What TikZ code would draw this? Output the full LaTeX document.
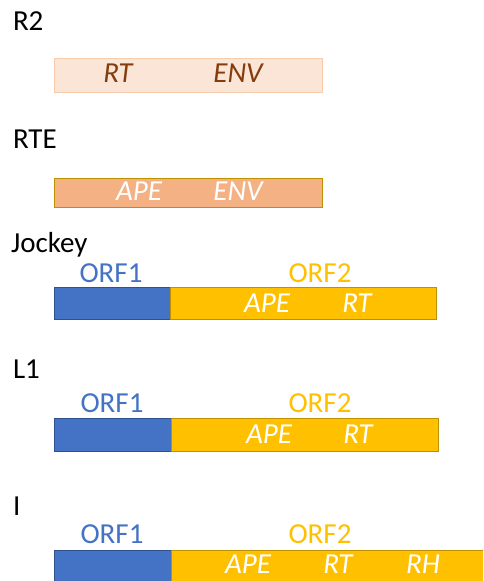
\documentclass[tikz,border=0pt]{standalone}
\usepackage{fontspec}
\setmainfont{Carlito}
\definecolor{peachL}{HTML}{FBE5D6}
\definecolor{peachB}{HTML}{F8CBAD}
\definecolor{peachD}{HTML}{F4B183}
\definecolor{brownT}{HTML}{843C0C}
\definecolor{goldB}{HTML}{BF9000}
\definecolor{blueF}{HTML}{4472C4}
\definecolor{blueB}{HTML}{2F528F}
\definecolor{yellowF}{HTML}{FFC000}
\begin{document}
\begin{tikzpicture}[x=1pt,y=-1pt,
  every node/.style={inner sep=0pt, outer sep=0pt, font=\fontsize{29}{34}\selectfont},
  title/.style={anchor=base west, text=black},
  box/.style={anchor=north west, minimum height=#1},
  intext/.style={anchor=base, font=\fontsize{29}{34}\selectfont\itshape},
  orfone/.style={anchor=base, text=blueF},
  orftwo/.style={anchor=base, text=yellowF}]
\clip (0,0) rectangle (483,581);
\fill[white] (0,0) rectangle (483,581);
% R2
\node[title] (tR2) at (13,30) {R2};
\node[box=34pt, minimum width=268pt, fill=peachL, draw=peachB, line width=1pt] (bR2) at (54,58) {};
\node[intext, text=brownT] (r2rt) at (118,82) {RT};
\node[intext, text=brownT] (r2env) at (238,82) {ENV};
% RTE
\node[title] (tRTE) at (13,148) {RTE};
\node[box=29pt, minimum width=268pt, fill=peachD, draw=goldB, line width=1pt] (bRTE) at (54,178) {};
\node[intext, text=white] (rteape) at (139,200) {APE};
\node[intext, text=white] (rteenv) at (238,200) {ENV};
% Jockey
\node[title] (tJ) at (11,252) {Jockey};
\node[orfone] (jo1) at (111,282) {ORF1};
\node[orftwo] (jo2) at (320,282) {ORF2};
\node[box=32pt, minimum width=116pt, fill=blueF, draw=blueB, line width=0.5pt] (jb1) at (54,287) {};
\node[box=32pt, minimum width=266pt, fill=yellowF, draw=goldB, line width=0.8pt] (jb2) at (170,287) {};
\node[intext, text=white] (jape) at (267,312) {APE};
\node[intext, text=white] (jrt) at (357,312) {RT};
% L1
\node[title] (tL1) at (13,378) {L1};
\node[orfone] (lo1) at (112,412) {ORF1};
\node[orftwo] (lo2) at (320,412) {ORF2};
\node[box=33pt, minimum width=117pt, fill=blueF, draw=blueB, line width=0.5pt] (lb1) at (54,418) {};
\node[box=33pt, minimum width=267pt, fill=yellowF, draw=goldB, line width=0.8pt] (lb2) at (171,418) {};
\node[intext, text=white] (lape) at (269,443) {APE};
\node[intext, text=white] (lrt) at (358,443) {RT};
% I
\node[title] (tI) at (13,515) {I};
\node[orfone] (io1) at (112,543) {ORF1};
\node[orftwo] (io2) at (320,543) {ORF2};
\node[box=40pt, minimum width=117pt, fill=blueF, draw=blueB, line width=0.5pt] (ib1) at (54,550) {};
\node[box=40pt, minimum width=330pt, fill=yellowF, draw=goldB, line width=0.8pt] (ib2) at (171,550) {};
\node[intext, text=white] (iape) at (248,573) {APE};
\node[intext, text=white] (irt) at (338,573) {RT};
\node[intext, text=white] (irh) at (423,573) {RH};
\end{tikzpicture}
\end{document}
